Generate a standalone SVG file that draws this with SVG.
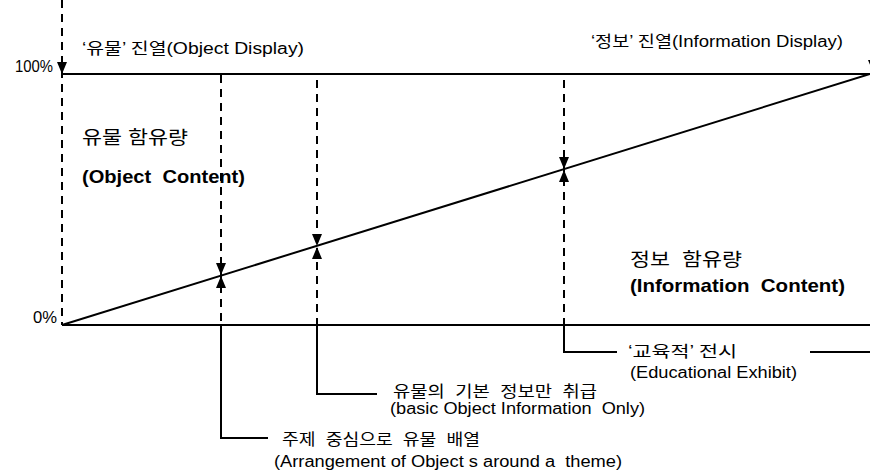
<svg xmlns="http://www.w3.org/2000/svg" width="870" height="474" viewBox="0 0 870 474">
<style>
text{font-family:"Liberation Sans","Noto Sans CJK KR",sans-serif;fill:#000;white-space:pre}
.s{font-size:16px}
.m{font-size:18px}
.b{font-size:19px;font-weight:bold}
.solid{stroke:#000;stroke-width:2;fill:none}
.dash{stroke:#000;stroke-width:2;fill:none;stroke-dasharray:8,6}
.ah{fill:#000}
</style>
<rect width="870" height="474" fill="#fff"/>
<g id="connectors">
<line class="solid" x1="62" y1="74" x2="870" y2="74"/>
<line class="solid" x1="62" y1="325" x2="870" y2="325"/>
<line class="solid" x1="62" y1="325" x2="870" y2="74"/>
<line class="dash" x1="62" y1="0" x2="62" y2="325"/>
<polygon class="ah" points="57,62 67,62 62,74"/>
<polygon class="ah" points="868,60 878,60 873,72"/>
<line class="dash" x1="221" y1="75" x2="221" y2="325"/>
<polygon class="ah" points="216,263 226,263 221,275"/>
<polygon class="ah" points="216,288 226,288 221,276"/>
<path class="solid" d="M221,325 V438 H268"/>
<line class="dash" x1="317" y1="80" x2="317" y2="325"/>
<polygon class="ah" points="312,234 322,234 317,246"/>
<polygon class="ah" points="312,259 322,259 317,247"/>
<path class="solid" d="M317,325 V394 H377"/>
<line class="dash" x1="564" y1="80" x2="564" y2="325"/>
<polygon class="ah" points="559,157 569,157 564,169"/>
<polygon class="ah" points="559,182 569,182 564,170"/>
<path class="solid" d="M564,325 V352 H617"/>
<line class="solid" x1="810" y1="352" x2="870" y2="352"/>
</g>
<g id="axis-labels">
<text class="s" x="15" y="72" textLength="38" lengthAdjust="spacingAndGlyphs">100%</text>
<text class="s" x="33" y="323" textLength="24" lengthAdjust="spacingAndGlyphs">0%</text>
</g>
<g id="object-display"><text class="s" x="82" y="54" textLength="222" lengthAdjust="spacingAndGlyphs">‘유물’ 진열(Object Display)</text></g>
<g id="info-display"><text class="s" x="591" y="47" textLength="252" lengthAdjust="spacingAndGlyphs">‘정보’ 진열(Information Display)</text></g>
<g id="object-content">
<text class="m" x="82" y="144" textLength="106" lengthAdjust="spacingAndGlyphs">유물 함유량</text>
<text class="b" x="82" y="183" textLength="163" lengthAdjust="spacingAndGlyphs">(Object  Content)</text>
</g>
<g id="info-content">
<text class="m" x="630" y="266" textLength="112" lengthAdjust="spacingAndGlyphs">정보  함유량</text>
<text class="b" x="630" y="292" textLength="215" lengthAdjust="spacingAndGlyphs">(Information  Content)</text>
</g>
<g id="theme">
<text class="s" x="282" y="445" textLength="198" lengthAdjust="spacingAndGlyphs">주제  중심으로  유물  배열</text>
<text class="s" x="274" y="467" textLength="348" lengthAdjust="spacingAndGlyphs">(Arrangement of Object s around a  theme)</text>
</g>
<g id="basic">
<text class="s" x="393" y="397" textLength="204" lengthAdjust="spacingAndGlyphs">유물의  기본  정보만  취급</text>
<text class="s" x="390" y="414" textLength="255" lengthAdjust="spacingAndGlyphs">(basic Object Information  Only)</text>
</g>
<g id="educational">
<text class="s" x="628" y="357" textLength="109" lengthAdjust="spacingAndGlyphs">‘교육적’ 전시</text>
<text class="s" x="630" y="378" textLength="167" lengthAdjust="spacingAndGlyphs">(Educational Exhibit)</text>
</g>
</svg>
